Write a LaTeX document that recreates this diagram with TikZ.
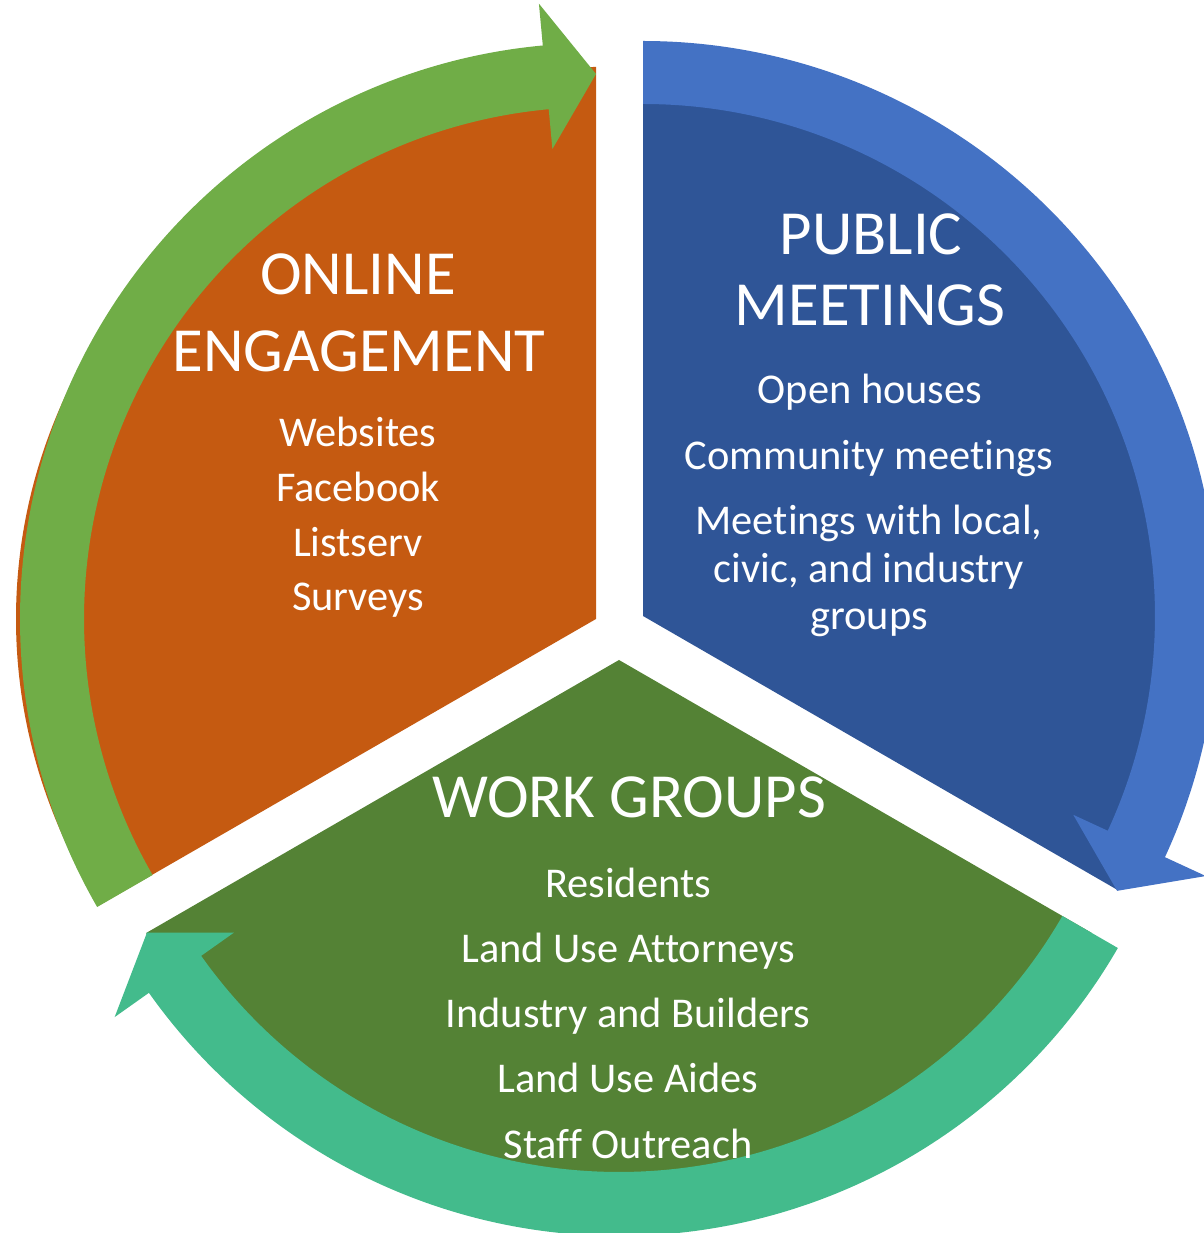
\documentclass[tikz,border=0pt]{standalone}
\usepackage{fontspec}
\setmainfont{Carlito}[Ligatures=NoCommon]
\usepackage{tikz}
\usetikzlibrary{positioning}
\definecolor{onlineorange}{HTML}{C55A11}
\definecolor{publicblue}{HTML}{2F5597}
\definecolor{workgreen}{HTML}{548235}
\definecolor{arrowgreen}{HTML}{70AD47}
\definecolor{arrowblue}{HTML}{4472C4}
\definecolor{arrowteal}{HTML}{43BB8C}
\tikzstyle{title}=[text=white,font=\fontsize{31.4}{37}\selectfont,anchor=base,inner sep=0pt]
\tikzstyle{item}=[text=white,font=\fontsize{21.2}{25}\selectfont,anchor=base,inner sep=0pt]
\begin{document}
\begin{tikzpicture}[x=0.5pt,y=0.5pt]
\useasboundingbox (0,0) rectangle (1204,1233);
\coordinate (O) at (596,614);
\coordinate (B) at (643,617);
\coordinate (G) at (619,573);
% the three segments
\fill[onlineorange,shift={(O)}] (0,0) -- (0,552) arc[start angle=90,end angle=211.2,x radius=580,y radius=552] -- cycle;
\fill[publicblue,shift={(B)}] (0,0) -- (90:548) arc[start angle=90,end angle=-30,radius=548] -- cycle;
\fill[workgreen,shift={(G)}] (0,0) -- (210:546) arc[start angle=210,end angle=330,radius=546] -- cycle;
% curved arrows
\fill[arrowgreen,shift={(O)}] (210:576) arc[start angle=210,end angle=95.3,radius=576]
  -- (95.3:618) -- (90:545) -- (95.3:472) -- (95.3:512)
  arc[start angle=95.3,end angle=210,radius=512] -- cycle;
\fill[arrowblue,shift={(B)}] (90:575) arc[start angle=90,end angle=-24.8,radius=575]
  -- (-24.8:620) -- (-30.1:548) -- (-24.8:474) -- (-24.8:512)
  arc[start angle=-24.8,end angle=90,radius=512] -- cycle;
\fill[arrowteal,shift={(G)}] (330:576) arc[start angle=330,end angle=215.3,radius=576]
  -- (215.3:618) -- (210:545) -- (215.3:472) -- (215.3:512)
  arc[start angle=215.3,end angle=330,radius=512] -- cycle;
% texts
\node[title] (online) at (358,938) {ONLINE};
\node[title] (engagement) at (359,861) {ENGAGEMENT};
\node[item] (websites) at (358,786) {Websites};
\node[item] (facebook) at (358,731) {Facebook};
\node[item] (listserv) at (358,676) {Listserv};
\node[item] (surveys) at (358,622) {Surveys};
\node[title] (public) at (871,978) {PUBLIC};
\node[title] (meetings) at (870,907) {MEETINGS};
\node[item] (openhouses) at (870,829) {Open houses};
\node[item] (community) at (869,763) {Community meetings};
\node[item] (withlocal) at (869,698) {Meetings with local,};
\node[item] (civic) at (869,650) {civic, and industry};
\node[item] (groups) at (869,603) {groups};
\node[title] (workgroups) at (629,415) {WORK GROUPS};
\node[item] (residents) at (628,335) {Residents};
\node[item] (attorneys) at (628,270) {Land Use Attorneys};
\node[item] (builders) at (628,205) {Industry and Builders};
\node[item] (aides) at (628,140) {Land Use Aides};
\node[item] (outreach) at (628,75) {Staff Outreach};
\end{tikzpicture}
\end{document}
